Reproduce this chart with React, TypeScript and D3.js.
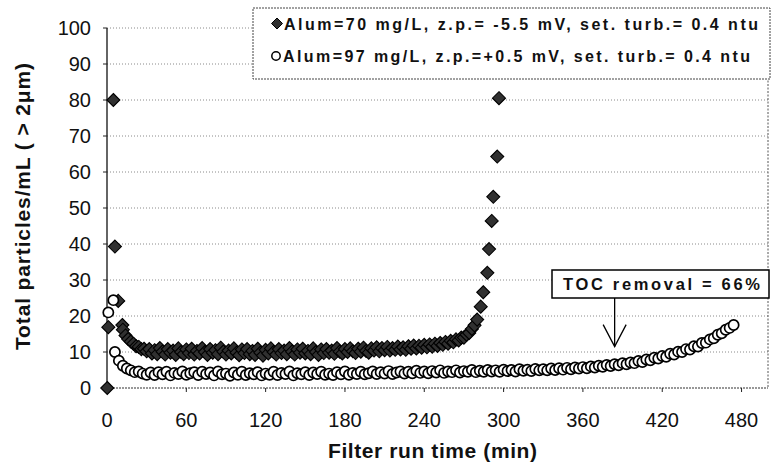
import React from "react";
import * as d3 from "d3";

// ---------- DATA ----------
const X_TICKS = [0, 60, 120, 180, 240, 300, 360, 420, 480];
const Y_TICKS = [0, 10, 20, 30, 40, 50, 60, 70, 80, 90, 100];

const SERIES1_LABEL = "Alum=70 mg/L, z.p.= -5.5 mV, set. turb.= 0.4 ntu";
const SERIES2_LABEL = "Alum=97 mg/L, z.p.=+0.5 mV, set. turb.= 0.4 ntu";
const TOC_LABEL = "TOC removal = 66%";
const TOC_TIME = 384;
const TOC_VALUE = 11.5;

// Series 1 (diamonds): early irregular points
const S1_EARLY_T = [0.2, 1, 4.8, 6, 8.5, 11.6];
const S1_EARLY_V = [0, 16.9, 80, 39.3, 24.2, 17.5];
// Series 1 regular band (start 12 min, every 2 min)
const S1_BAND_START = 12;
const S1_BAND_STEP = 2;
const S1_BAND_V = [
  16.2, 14.6, 13.6, 12.9, 12.3, 11.6, 11.4, 10.8, 10.9, 10.2,
  10.8, 9.6, 10.5, 9.4, 11.1, 10.1, 9.3, 10.8, 9.8, 10.4,
  9.2, 11.0, 10.0, 9.4, 10.7, 9.7, 10.9, 9.3, 10.3, 9.6,
  11.1, 10.0, 9.2, 10.8, 9.8, 10.5, 9.4, 11.2, 10.1, 9.3,
  10.4, 9.6, 11.0, 9.8, 9.1, 10.7, 9.7, 10.8, 9.4, 10.3,
  9.2, 10.9, 9.8, 9.0, 10.6, 9.6, 11.0, 10.0, 9.3, 10.8,
  9.7, 10.4, 9.4, 11.1, 10.1, 9.3, 10.7, 9.8, 10.9, 9.6,
  10.3, 9.4, 11.0, 10.0, 9.2, 10.7, 9.7, 10.8, 9.8, 10.4,
  9.5, 11.1, 10.1, 9.6, 10.8, 10.0, 11.0, 10.2, 9.7, 10.9,
  10.1, 11.2, 10.3, 9.8, 11.0, 10.4, 11.3, 10.2, 11.1, 10.5,
  11.4, 10.4, 11.1, 10.6, 11.5, 10.7, 11.3, 10.6, 11.6, 10.9,
  11.8, 11.0, 11.7, 11.2, 12.0, 11.3, 12.1, 11.5, 12.3, 11.7,
  12.5, 12.0, 12.8, 12.3, 13.1, 12.7, 13.5, 13.2, 14.0, 14.0,
  14.8, 15.3, 16.4, 17.4, 19.0,
];
// Series 1 breakthrough spike
const S1_SPIKE_T = [282.7, 284.6, 287.7, 289, 291, 292.2, 295.2, 296.5];
const S1_SPIKE_V = [22.6, 26.6, 32.0, 38.6, 46.4, 53.1, 64.3, 80.5];

// Series 2 (circles): early irregular points
const S2_EARLY_T = [1, 4.8];
const S2_EARLY_V = [21, 24.4];
// Series 2 regular band (start 6 min, every 3 min)
const S2_BAND_START = 6;
const S2_BAND_STEP = 3;
const S2_BAND_V = [
  10.0, 7.6, 6.2, 5.4, 4.9, 4.4, 4.6, 4.0, 3.7, 4.3,
  3.6, 4.4, 3.8, 4.5, 3.5, 4.2, 3.9, 4.6, 3.7, 4.1,
  4.4, 3.6, 4.5, 3.9, 4.3, 3.5, 4.6, 3.8, 4.0, 3.4,
  4.3, 3.7, 4.5, 3.6, 4.1, 3.8, 4.4, 3.5, 4.0, 3.7,
  4.5, 3.6, 4.2, 3.9, 4.6, 3.5, 4.1, 3.8, 4.4, 3.6,
  4.3, 3.9, 4.5, 3.7, 4.0, 3.6, 4.4, 3.8, 4.6, 3.7,
  4.2, 3.9, 4.5, 3.8, 4.1, 4.6, 3.9, 4.4, 4.0, 4.7,
  3.9, 4.3, 4.6, 4.0, 4.5, 4.1, 4.8, 4.2, 4.6, 4.1,
  4.7, 4.3, 4.9, 4.2, 4.6, 4.4, 4.9, 4.3, 4.7, 4.5,
  5.0, 4.4, 4.8, 4.5, 5.0, 4.6, 4.9, 4.5, 5.1, 4.7,
  5.0, 4.6, 5.2, 4.8, 5.1, 4.7, 5.3, 4.9, 5.2, 4.9,
  5.4, 5.0, 5.5, 5.1, 5.6, 5.2, 5.7, 5.4, 5.8, 5.5,
  6.0, 5.7, 6.2, 5.9, 6.4, 6.1, 6.6, 6.3, 6.9, 6.6,
  7.1, 6.9, 7.5, 7.2, 7.9, 7.7, 8.4, 8.2, 8.9, 8.7,
  9.5, 9.3, 10.1, 10.0, 10.8, 10.7, 11.6, 11.5, 12.5, 12.6,
  13.5, 13.8, 14.8, 15.2, 16.2, 16.7, 17.5,
];

// ---------- BUILD POINTS ----------
type Pt = { t: number; v: number };
const series1: Pt[] = [
  ...S1_EARLY_T.map((t, i) => ({ t, v: S1_EARLY_V[i] })),
  ...S1_BAND_V.map((v, i) => ({ t: S1_BAND_START + i * S1_BAND_STEP, v })),
  ...S1_SPIKE_T.map((t, i) => ({ t, v: S1_SPIKE_V[i] })),
];
const series2: Pt[] = [
  ...S2_EARLY_T.map((t, i) => ({ t, v: S2_EARLY_V[i] })),
  ...S2_BAND_V.map((v, i) => ({ t: S2_BAND_START + i * S2_BAND_STEP, v })),
];

const W = 771;
const H = 469;
const FONT = "'Liberation Sans', Arial, Helvetica, sans-serif";

const x = d3.scaleLinear().domain([0, 500]).range([107, 768]);
const y = d3.scaleLinear().domain([0, 100]).range([388, 28]);

const diamond = (cx: number, cy: number, r: number) =>
  `M${cx},${cy - r}L${cx + r},${cy}L${cx},${cy + r}L${cx - r},${cy}Z`;

export default function App() {
  const [x0, x1] = x.range();
  const [yb, yt] = y.range();
  const tocX = x(TOC_TIME);
  const tocTip = y(TOC_VALUE);
  return (
    <svg
      width={W}
      height={H}
      viewBox={`0 0 ${W} ${H}`}
      style={{ position: "absolute", left: 0, top: 0, background: "#fff" }}
      fontFamily={FONT}
    >
      <rect x={0} y={0} width={W} height={H} fill="#fff" />
      {/* gridlines */}
      {Y_TICKS.filter((v) => v > 0).map((v) => (
        <line
          key={"g" + v}
          x1={x0}
          x2={x1}
          y1={y(v)}
          y2={y(v)}
          stroke="#8a8a8a"
          strokeWidth={1}
          strokeDasharray="1,2"
        />
      ))}
      {/* right border */}
      <line x1={x1} x2={x1} y1={yt} y2={yb} stroke="#555" strokeWidth={1} strokeDasharray="2,1.5" />
      {/* x axis */}
      <line x1={x0} x2={x1} y1={yb} y2={yb} stroke="#333" strokeWidth={1.2} strokeDasharray="2,1" />
      {X_TICKS.map((t) => (
        <g key={"xt" + t}>
          <line x1={x(t)} x2={x(t)} y1={yb} y2={yb + 4} stroke="#222" strokeWidth={1} />
          <text x={x(t)} y={427} textAnchor="middle" fontSize={20} fill="#111">
            {t}
          </text>
        </g>
      ))}
      {/* y axis */}
      <line x1={x0} x2={x0} y1={yt} y2={yb} stroke="#111" strokeWidth={1.3} />
      {Y_TICKS.map((v) => (
        <g key={"yt" + v}>
          <line x1={x0 - 4} x2={x0} y1={y(v)} y2={y(v)} stroke="#222" strokeWidth={1} />
          <text x={91} y={y(v)} dy="0.36em" textAnchor="end" fontSize={20} fill="#111">
            {v}
          </text>
        </g>
      ))}
      {/* series 1 diamonds */}
      {series1.map((p, i) => (
        <path
          key={"d" + i}
          d={diamond(x(p.t), y(p.v), 6.5)}
          fill="#303030"
          stroke="#000"
          strokeWidth={1.1}
        />
      ))}
      {/* series 2 circles */}
      {series2.map((p, i) => (
        <circle
          key={"c" + i}
          cx={x(p.t)}
          cy={y(p.v)}
          r={5.1}
          fill="#fff"
          stroke="#000"
          strokeWidth={1.7}
        />
      ))}
      {/* legend */}
      <rect x={253} y={8} width={517} height={71} fill="#fff" stroke="#444" strokeWidth={1} strokeDasharray="2,1" />
      <path d={diamond(277, 23.5, 5.5)} fill="#303030" stroke="#000" strokeWidth={1} />
      <text x={284} y={29.5} fontSize={16} fontWeight="bold" fill="#111" textLength={474} lengthAdjust="spacing">
        {SERIES1_LABEL}
      </text>
      <circle cx={276} cy={56} r={4.2} fill="#fff" stroke="#000" strokeWidth={1.5} />
      <text x={283} y={62} fontSize={16} fontWeight="bold" fill="#111" textLength={467} lengthAdjust="spacing">
        {SERIES2_LABEL}
      </text>
      {/* TOC annotation */}
      <rect x={552} y={270} width={217} height={28} fill="#fff" stroke="#000" strokeWidth={1.5} />
      <text x={563} y={290} fontSize={16.5} fontWeight="bold" fill="#111" textLength={197} lengthAdjust="spacing">
        {TOC_LABEL}
      </text>
      <line x1={tocX} x2={tocX} y1={298} y2={tocTip} stroke="#000" strokeWidth={1.3} />
      <polyline
        points={`${tocX - 11.5},${tocTip - 22} ${tocX},${tocTip} ${tocX + 11.5},${tocTip - 22}`}
        fill="none"
        stroke="#000"
        strokeWidth={1.3}
      />
      {/* axis titles */}
      <text x={328} y={458} fontSize={21} fontWeight="bold" fill="#111" textLength={209} lengthAdjust="spacing">
        Filter run time (min)
      </text>
      <text
        transform="translate(30,350) rotate(-90)"
        x={0}
        y={0}
        fontSize={21}
        fontWeight="bold"
        fill="#111"
        textLength={287}
        lengthAdjust="spacing"
      >
        Total particles/mL ( &gt; 2μm)
      </text>
    </svg>
  );
}
